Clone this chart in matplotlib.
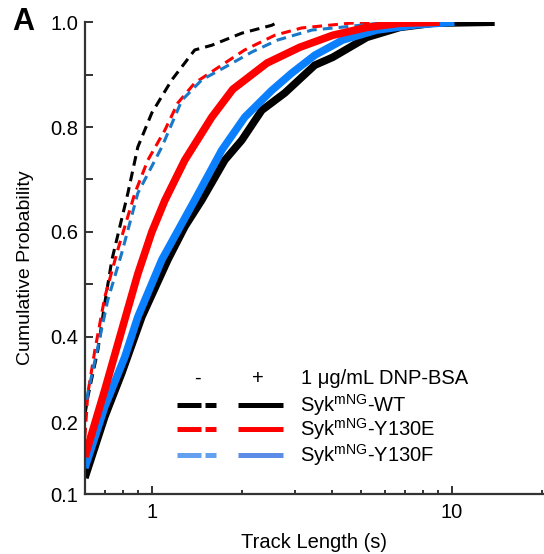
import numpy as np
import matplotlib
matplotlib.use('Agg')
import matplotlib.pyplot as plt

plt.rcParams['font.family'] = ['Liberation Sans', 'DejaVu Sans']
plt.rcParams['mathtext.fontset'] = 'custom'
plt.rcParams['mathtext.rm'] = 'Liberation Sans'

# cumulative distributions (track length in s, probability)
wt_plus_x = [0.598, 0.697, 0.794, 0.926, 1.131, 1.288, 1.468, 1.751, 1.995, 2.326,
             2.776, 3.162, 3.494, 4.01, 5.21, 6.71, 8.64, 13.9]
wt_plus_y = [0.131, 0.248, 0.331, 0.438, 0.547, 0.610, 0.661, 0.737, 0.775, 0.832,
             0.865, 0.895, 0.918, 0.933, 0.971, 0.990, 0.998, 1.0]

f_plus_x = [0.598, 0.697, 0.813, 0.898, 1.080, 1.391, 1.711, 2.042, 2.512, 2.929,
            3.494, 4.33, 5.62, 7.62, 10.2]
f_plus_y = [0.150, 0.267, 0.362, 0.438, 0.547, 0.661, 0.756, 0.819, 0.870, 0.903,
            0.937, 0.966, 0.985, 0.995, 1.0]

e_plus_x = [0.598, 0.697, 0.794, 0.898, 1.0, 1.105, 1.288, 1.585, 1.862, 2.42, 3.11,
            4.01, 5.21, 6.71, 9.12]
e_plus_y = [0.171, 0.299, 0.413, 0.520, 0.600, 0.660, 0.737, 0.819, 0.872, 0.922, 0.952,
            0.975, 0.990, 0.998, 1.0]

wt_minus_x = [0.598, 0.612, 0.661, 0.697, 0.736, 0.832, 0.898, 1.0, 1.166, 1.39,
              1.585, 1.995, 2.51, 2.63]
wt_minus_y = [0.251, 0.286, 0.375, 0.465, 0.547, 0.674, 0.762, 0.827, 0.890, 0.947,
              0.956, 0.979, 0.994, 1.0]

e_minus_x = [0.598, 0.612, 0.646, 0.697, 0.770, 0.878, 0.970, 1.105, 1.221, 1.39,
             1.751, 2.04, 2.57, 3.16, 4.57, 5.62]
e_minus_y = [0.208, 0.293, 0.375, 0.476, 0.566, 0.674, 0.737, 0.794, 0.846, 0.884,
             0.922, 0.947, 0.975, 0.989, 0.998, 1.0]

f_minus_x = [0.607, 0.612, 0.661, 0.713, 0.794, 0.898, 1.08, 1.259, 1.468, 1.751,
             2.154, 2.63, 3.42, 4.23, 5.75]
f_minus_y = [0.28, 0.293, 0.381, 0.470, 0.560, 0.674, 0.762, 0.851, 0.890, 0.914,
             0.943, 0.966, 0.985, 0.990, 0.998]

row_labels = [r'Syk$^{\mathrm{mNG}}$-WT', r'Syk$^{\mathrm{mNG}}$-Y130E',
              r'Syk$^{\mathrm{mNG}}$-Y130F']

fig = plt.figure(figsize=(5.44, 5.54), dpi=100)
ax = fig.add_axes([0.156, 0.108, 0.844, 0.852])

dash = (0, (3.2, 2.0))
ax.plot(wt_minus_x, wt_minus_y, color='black', lw=2.2, ls=dash)
ax.plot(e_minus_x, e_minus_y, color='#ff0000', lw=2.2, ls=dash)
ax.plot(f_minus_x, f_minus_y, color='#1a78c8', lw=2.2, ls=dash)
ax.plot(wt_plus_x, wt_plus_y, color='black', lw=5.5, solid_capstyle='butt')
ax.plot(f_plus_x, f_plus_y, color='#0a80ff', lw=5.5, solid_capstyle='butt')
ax.plot(e_plus_x, e_plus_y, color='#ff0000', lw=5.5, solid_capstyle='butt')

ax.set_xscale('log')
ax.set_xlim(0.598, 20.3)
ax.set_ylim(0.1, 1.0)
ax.set_xticks([1, 10])
ax.set_xticklabels(['1', '10'])
ax.set_xticks([0.7, 0.8, 0.9, 2, 3, 4, 5, 6, 7, 8, 9, 20], minor=True)
ax.xaxis.set_minor_formatter(matplotlib.ticker.NullFormatter())
ax.set_yticks([0.1, 0.236, 0.4, 0.6, 0.8, 1.0])
ax.set_yticklabels(['0.1', '0.2', '0.4', '0.6', '0.8', '1.0'])
ax.set_yticks([0.5, 0.7, 0.9], minor=True)
yt = ax.yaxis.get_major_ticks()
yt[0].tick1line.set_visible(False)
yt[1].tick1line.set_visible(False)

for s in ['top', 'right']:
    ax.spines[s].set_visible(False)
for s in ['left', 'bottom']:
    ax.spines[s].set_linewidth(1.6)
    ax.spines[s].set_color('#333333')
ax.tick_params(which='both', direction='in', color='#333333', width=1.4,
               labelsize=14.5, colors='#333333', labelcolor='black')
ax.tick_params(axis='y', which='both', length=6, pad=5)
ax.tick_params(axis='x', which='major', length=6, pad=6)
ax.tick_params(axis='x', which='minor', length=3)

ax.set_xlabel('Track Length (s)', fontsize=14.5, labelpad=8)
ax.set_ylabel('Cumulative Probability', fontsize=14)
ax.yaxis.set_label_coords(-0.11, 0.48)

# legend drawn by hand in axes fraction
tr = ax.transAxes
def fx(px):
    return (px - 85) / 459.0
def fy(py):
    return (494 - py) / 472.0

ax.text(fx(198), fy(378), '-', transform=tr, ha='center', va='center', fontsize=14.5)
ax.text(fx(258), fy(378), '+', transform=tr, ha='center', va='center', fontsize=14.5)
ax.text(fx(301), fy(378), '1 μg/mL DNP-BSA', transform=tr, ha='left', va='center', fontsize=14.5)
leg_dash = ['black', '#ff0000', '#64a0f0']
leg_solid = ['black', '#ff0000', '#5a8ce8']
rows = [405, 429, 455]
for i in range(3):
    y = fy(rows[i])
    ax.plot([fx(177), fx(201)], [y, y], transform=tr, color=leg_dash[i], lw=3.6,
            solid_capstyle='butt', clip_on=False)
    ax.plot([fx(205), fx(216)], [y, y], transform=tr, color=leg_dash[i], lw=3.6,
            solid_capstyle='butt', clip_on=False)
    ax.plot([fx(238), fx(283)], [y, y], transform=tr, color=leg_solid[i], lw=3.6,
            solid_capstyle='butt', clip_on=False)
    ax.text(fx(300), y, row_labels[i], transform=tr, ha='left', va='center', fontsize=14.5)

fig.text(12 / 544, 1 - 22 / 554, 'A', fontsize=22, fontweight='bold', ha='left', va='center')

fig.savefig('out.png', dpi=100)
